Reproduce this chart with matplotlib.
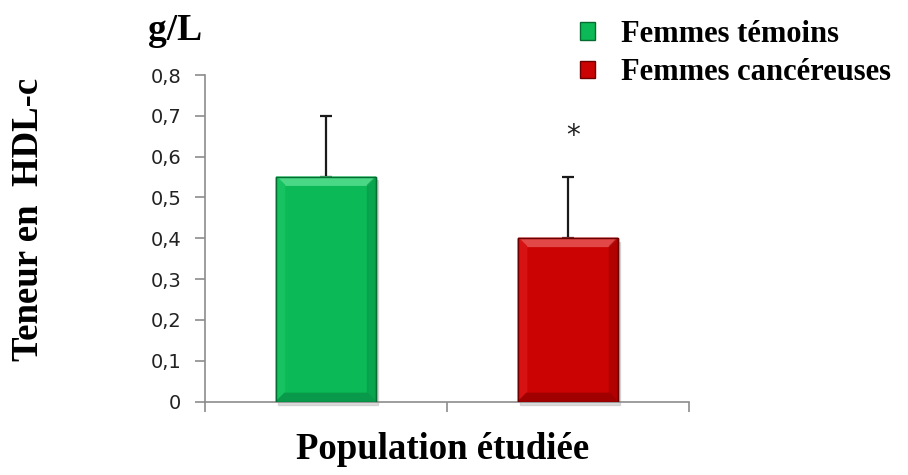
import matplotlib.pyplot as plt
import numpy as np
from matplotlib.patches import Patch, Polygon, Rectangle

groups = ['Femmes témoins', 'Femmes cancéreuses']
hdl_mean = [0.55, 0.40]
hdl_sd = [0.15, 0.15]
bar_colors = ['#0bb956', '#cc0303']
light_colors = ['#4ad886', '#e24848']
side_colors = ['#17c260', '#d61212']
dark_colors = ['#08994a', '#a00000']
edge_colors = ['#066b31', '#6a0000']
signif = ['', '*']

serif = 'Liberation Serif'
bar_w = 0.41

fig = plt.figure(figsize=(9.08, 4.75), dpi=100)
ax = fig.add_axes([0.2258, 0.1547, 0.533, 0.6874])

x = np.arange(len(groups))
bars = ax.bar(x, hdl_mean, width=bar_w, color=bar_colors, edgecolor=edge_colors,
              linewidth=1.0, zorder=3)

# bevelled look: light top, darker bottom, small drop shadow
bx, by = 0.034, 0.02
for rect, lc, sc, dc in zip(bars, light_colors, side_colors, dark_colors):
    x0, w, h = rect.get_x(), rect.get_width(), rect.get_height()
    x1 = x0 + w
    ax.add_patch(Rectangle((x0 + 0.008, -0.008), w, h, color='#b8b8b8',
                           alpha=0.5, zorder=2.5, clip_on=False))
    ax.add_patch(Polygon([(x0, h), (x1, h), (x1 - bx, h - by), (x0 + bx, h - by)],
                         closed=True, color=lc, zorder=3.1))
    ax.add_patch(Polygon([(x0, 0), (x0, h), (x0 + bx, h - by), (x0 + bx, by)],
                         closed=True, color=sc, zorder=3.1))
    ax.add_patch(Polygon([(x0, 0), (x1, 0), (x1 - bx, by), (x0 + bx, by)],
                         closed=True, color=dc, zorder=3.1))
    ax.add_patch(Polygon([(x1, 0), (x1, h), (x1 - bx, h - by), (x1 - bx, by)],
                         closed=True, color=dc, alpha=0.6, zorder=3.1))
    ax.add_patch(Rectangle((x0, 0), w, h, fill=False, edgecolor=rect.get_edgecolor(),
                           linewidth=1.0, zorder=3.2))

ax.errorbar(x, hdl_mean, yerr=[np.zeros(len(x)), hdl_sd], fmt='none',
            ecolor='#1a1a1a', elinewidth=1.6, capsize=4.5, capthick=1.6, zorder=2)

for xi, m, s, mark in zip(x, hdl_mean, hdl_sd, signif):
    if mark:
        ax.text(xi + 0.02, m + s + 0.1, mark, ha='center', va='center',
                fontsize=20, color='#222222')

ax.set_xlim(-0.5, 1.5)
ax.set_ylim(0, 0.8)
ax.set_yticks(np.arange(0, 0.81, 0.1))
ax.set_yticklabels(['0'] + ['0,%d' % i for i in range(1, 9)])
ax.set_xticks([-0.5, 0.5, 1.5])
ax.set_xticklabels([])

for side in ['top', 'right']:
    ax.spines[side].set_visible(False)
for side in ['left', 'bottom']:
    ax.spines[side].set_color('#8c8c8c')
    ax.spines[side].set_linewidth(1.2)
ax.tick_params(axis='both', colors='#8c8c8c', length=7, width=1.2)
ax.tick_params(axis='y', labelsize=14, labelcolor='#222222', pad=10)

fig.text(0.487, 0.053, 'Population étudiée', family=serif, fontweight='bold',
         fontsize=26.5, ha='center', va='center')
fig.text(0.031, 0.537, 'Teneur en  HDL-c', family=serif, fontweight='bold',
         fontsize=26.5, rotation=90, ha='center', va='center')
fig.text(0.193, 0.935, 'g/L', family=serif, fontweight='bold', fontsize=27,
         ha='center', va='center')

handles = [Patch(facecolor=c, edgecolor=e) for c, e in zip(bar_colors, edge_colors)]
fig.legend(handles, groups, loc='upper left', bbox_to_anchor=(0.622, 0.99),
           frameon=False, borderpad=0, handlelength=0.5, handleheight=0.5,
           handletextpad=0.85, labelspacing=0.3,
           prop={'family': serif, 'weight': 'bold', 'size': 22})

fig.savefig('out.png', dpi=100)
